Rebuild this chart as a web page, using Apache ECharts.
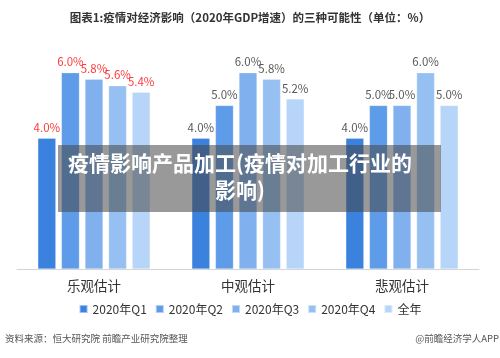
<!DOCTYPE html>
<html><head><meta charset="utf-8">
<script src="https://cdn.jsdelivr.net/npm/echarts@6/dist/echarts.min.js"></script>
<style>html,body{margin:0;padding:0;background:#fff}#c{width:500px;height:358px}</style>
</head><body><div id="c"></div>
<script>
const categories = ['乐观估计', '中观估计', '悲观估计'];
const seriesNames = ['2020年Q1', '2020年Q2', '2020年Q3', '2020年Q4', '全年'];
const q1 = [4.0, 4.0, 4.0];
const q2 = [6.0, 5.0, 5.0];
const q3 = [5.8, 6.0, 5.0];
const q4 = [5.6, 5.8, 6.0];
const fullYear = [5.4, 5.2, 5.0];
const allValues = [q1, q2, q3, q4, fullYear];
const colors = ['#3b82de', '#5e9be8', '#80b0ee', '#96c0f2', '#b6d5f8'];
const labelColors = ['#ff3b3b', '#5a5a5a', '#5a5a5a'];

const FONT = '"Noto Sans CJK SC", "Noto Sans", sans-serif';
const chart = echarts.init(document.getElementById('c'));
const series = allValues.map((vals, i) => ({
  name: seriesNames[i],
  type: 'bar',
  barWidth: 18,
  barGap: '31%',
  itemStyle: { color: colors[i], borderColor: 'rgba(255,255,255,0.5)', borderWidth: 0.5 },
  label: {
    show: true, position: 'top', distance: 5,
    fontFamily: FONT, fontSize: 11.5,
    formatter: p => p.value.toFixed(1) + '%'
  },
  data: vals.map((v, j) => ({ value: v, label: { color: labelColors[j] } }))
}));

chart.setOption({
  animation: false,
  backgroundColor: '#fff',
  title: {
    text: '图表1:疫情对经济影响（2020年GDP增速）的三种可能性（单位：%）',
    left: 'center', top: 7,
    textStyle: { fontFamily: FONT, fontSize: 11.5, fontWeight: 'bold', color: '#333' }
  },
  legend: {
    bottom: 38, left: 'center',
    itemWidth: 8, itemHeight: 8, itemGap: 8, icon: 'rect',
    textStyle: { fontFamily: FONT, fontSize: 12, color: '#333' },
    data: seriesNames
  },
  grid: { left: 17, right: 21, top: 40, bottom: 89 },
  xAxis: {
    type: 'category', data: categories,
    axisLine: { lineStyle: { color: '#d4d4d4' } },
    axisTick: { show: false },
    axisLabel: { fontFamily: FONT, fontSize: 13.5, color: '#333', margin: 10 }
  },
  yAxis: { type: 'value', min: 0, max: 7, show: false, splitLine: { show: false } },
  series: series,
  graphic: [
    { type: 'text', left: 5, top: 334,
      style: { text: '资料来源：恒大研究院 前瞻产业研究院整理', fontFamily: FONT, fontSize: 9.5, fill: '#555' } },
    { type: 'text', right: 1, top: 334,
      style: { text: '@前瞻经济学人APP', fontFamily: FONT, fontSize: 9.5, fill: '#555' } },
    { type: 'rect', shape: { x: 58, y: 145, width: 383, height: 67 },
      style: { fill: 'rgba(70,70,70,0.55)' }, z: 100 },
    { type: 'text', x: 240, y: 177, z: 101,
      style: { text: '疫情影响产品加工(疫情对加工行业的\n影响)', fontFamily: FONT, fontSize: 21, fontWeight: 'bold',
        fill: '#fff', align: 'center', verticalAlign: 'middle', lineHeight: 27 } }
  ]
});
</script></body></html>
